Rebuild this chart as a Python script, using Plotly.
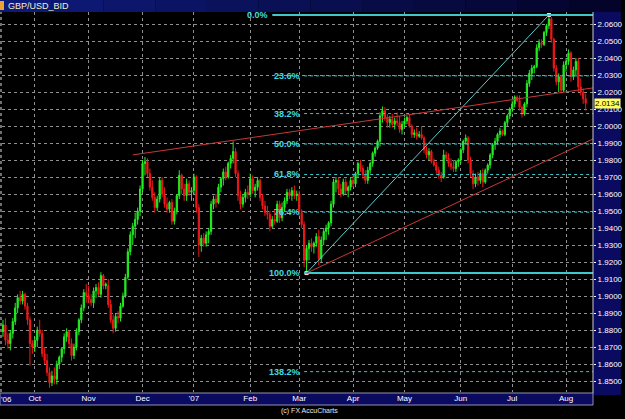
import plotly.graph_objects as go
import pandas as pd

# ---------------- data (GBP/USD daily bid, Sep 13 2006 - Aug 13 2007) ----------------
dates = pd.bdate_range("2006-09-13", "2007-08-13")

opens = [
    1.8790,1.8830,1.8740,1.8720,1.8780,1.8850,1.8930,1.8990,1.8970,1.9010,1.8940,1.8860,1.8720,  # Sep
    1.8700,1.8740,1.8800,1.8780,1.8660,1.8620,1.8550,1.8490,1.8530,1.8510,1.8600,1.8640,1.8690,1.8760,1.8790,1.8720,1.8650,1.8700,1.8790,1.8860,1.8930,1.9020,  # Oct
    1.9000,1.8980,1.8960,1.9030,1.9050,1.9010,1.9120,1.9060,1.9060,1.8950,1.8860,1.8810,1.8880,1.8870,1.8940,1.9000,1.9110,1.9260,1.9360,1.9410,1.9450,1.9500,  # Nov
    1.9630,1.9780,1.9790,1.9720,1.9640,1.9580,1.9520,1.9570,1.9680,1.9600,1.9540,1.9510,1.9550,1.9440,1.9500,1.9590,1.9710,1.9630,1.9590,1.9660,1.9610,  # Dec
    1.9620,1.9700,1.9520,1.9300,1.9340,1.9310,1.9360,1.9380,1.9540,1.9570,1.9550,1.9640,1.9690,1.9730,1.9700,1.9780,1.9810,1.9850,1.9720,1.9590,1.9540,1.9580,1.9610,  # Jan
    1.9600,1.9690,1.9620,1.9640,1.9680,1.9580,1.9530,1.9490,1.9480,1.9410,1.9450,1.9440,1.9540,1.9460,1.9520,1.9560,1.9610,1.9590,1.9620,1.9590,  # Feb
    1.9600,1.9490,1.9420,1.9210,1.9280,1.9310,1.9290,1.9310,1.9350,1.9220,1.9330,1.9380,1.9400,1.9430,1.9540,1.9670,1.9680,1.9630,1.9600,1.9670,1.9620,1.9640,  # Mar
    1.9680,1.9660,1.9720,1.9780,1.9750,1.9710,1.9680,1.9740,1.9780,1.9840,1.9870,1.9910,2.0060,2.0090,2.0050,2.0020,2.0040,2.0010,2.0030,2.0020,1.9980,  # Apr
    2.0010,2.0030,2.0050,2.0000,1.9950,1.9960,1.9940,1.9950,1.9930,1.9860,1.9830,1.9850,1.9790,1.9770,1.9740,1.9710,1.9700,1.9830,1.9810,1.9780,1.9760,1.9750,1.9790,  # May
    1.9800,1.9860,1.9910,1.9930,1.9800,1.9720,1.9660,1.9700,1.9680,1.9720,1.9670,1.9740,1.9770,1.9830,1.9890,1.9910,1.9950,1.9970,1.9950,2.0020,2.0060,  # Jun
    2.0100,2.0130,2.0170,2.0150,2.0110,2.0070,2.0130,2.0250,2.0310,2.0340,2.0350,2.0460,2.0490,2.0480,2.0550,2.0590,2.0630,2.0510,2.0340,2.0260,2.0290,2.0210,  # Jul
    2.0360,2.0380,2.0430,2.0290,2.0330,2.0380,2.0230,2.0200,2.0160,  # Aug
]
highs = [
    1.8860,1.8870,1.8780,1.8800,1.8870,1.8960,1.9010,1.9030,1.9030,1.9020,1.8960,1.8880,1.8740,
    1.8760,1.8820,1.8860,1.8800,1.8700,1.8660,1.8580,1.8560,1.8580,1.8620,1.8650,1.8700,1.8780,1.8810,1.8800,1.8750,1.8720,1.8810,1.8870,1.8950,1.9040,1.9070,
    1.9060,1.9010,1.9050,1.9070,1.9080,1.9140,1.9130,1.9080,1.9100,1.8980,1.8890,1.8900,1.8910,1.8960,1.9020,1.9130,1.9280,1.9380,1.9430,1.9490,1.9520,1.9650,
    1.9800,1.9818,1.9810,1.9750,1.9680,1.9610,1.9590,1.9700,1.9700,1.9640,1.9580,1.9560,1.9570,1.9520,1.9600,1.9740,1.9720,1.9660,1.9690,1.9680,1.9640,
    1.9720,1.9710,1.9540,1.9360,1.9370,1.9380,1.9400,1.9560,1.9590,1.9600,1.9660,1.9700,1.9750,1.9760,1.9790,1.9830,1.9910,1.9870,1.9740,1.9620,1.9600,1.9630,1.9650,
    1.9720,1.9710,1.9660,1.9700,1.9690,1.9600,1.9560,1.9530,1.9500,1.9470,1.9510,1.9560,1.9560,1.9550,1.9580,1.9630,1.9630,1.9640,1.9650,1.9620,
    1.9620,1.9510,1.9440,1.9300,1.9330,1.9340,1.9320,1.9370,1.9390,1.9350,1.9400,1.9420,1.9440,1.9560,1.9690,1.9700,1.9700,1.9660,1.9690,1.9690,1.9650,1.9700,
    1.9720,1.9730,1.9790,1.9800,1.9770,1.9740,1.9760,1.9790,1.9850,1.9880,1.9920,2.0080,2.0115,2.0110,2.0070,2.0060,2.0070,2.0050,2.0080,2.0060,2.0030,
    2.0050,2.0060,2.0070,2.0010,1.9980,1.9990,1.9970,2.0000,1.9940,1.9880,1.9870,1.9860,1.9810,1.9790,1.9760,1.9730,1.9860,1.9850,1.9840,1.9810,1.9800,1.9800,1.9810,
    1.9870,1.9920,1.9950,1.9940,1.9820,1.9740,1.9720,1.9730,1.9740,1.9750,1.9750,1.9780,1.9840,1.9900,1.9930,1.9960,1.9990,1.9980,2.0030,2.0070,2.0110,
    2.0150,2.0180,2.0180,2.0180,2.0120,2.0140,2.0270,2.0330,2.0360,2.0360,2.0480,2.0510,2.0510,2.0560,2.0600,2.0653,2.0640,2.0520,2.0360,2.0310,2.0300,2.0380,
    2.0400,2.0450,2.0440,2.0350,2.0400,2.0400,2.0280,2.0220,2.0190,
]
lows = [
    1.8760,1.8710,1.8690,1.8680,1.8750,1.8830,1.8900,1.8950,1.8950,1.8920,1.8830,1.8590,1.8660,
    1.8670,1.8700,1.8760,1.8640,1.8600,1.8530,1.8460,1.8470,1.8480,1.8480,1.8570,1.8610,1.8660,1.8730,1.8700,1.8620,1.8630,1.8680,1.8770,1.8840,1.8910,1.8960,
    1.8960,1.8940,1.8930,1.8990,1.9000,1.8990,1.9040,1.9040,1.8930,1.8840,1.8780,1.8790,1.8840,1.8850,1.8930,1.8990,1.9100,1.9240,1.9300,1.9340,1.9420,1.9470,
    1.9610,1.9710,1.9700,1.9620,1.9560,1.9490,1.9500,1.9550,1.9580,1.9520,1.9490,1.9490,1.9420,1.9420,1.9480,1.9570,1.9600,1.9560,1.9560,1.9590,1.9560,
    1.9600,1.9490,1.9230,1.9260,1.9290,1.9290,1.9310,1.9360,1.9510,1.9520,1.9540,1.9610,1.9650,1.9680,1.9690,1.9750,1.9780,1.9700,1.9560,1.9510,1.9520,1.9550,1.9570,
    1.9580,1.9600,1.9580,1.9620,1.9560,1.9510,1.9470,1.9450,1.9380,1.9400,1.9420,1.9430,1.9430,1.9440,1.9500,1.9540,1.9570,1.9560,1.9570,1.9560,
    1.9470,1.9400,1.9170,1.9135,1.9210,1.9260,1.9250,1.9290,1.9180,1.9200,1.9300,1.9330,1.9360,1.9410,1.9520,1.9610,1.9600,1.9580,1.9590,1.9600,1.9580,1.9620,
    1.9640,1.9640,1.9700,1.9730,1.9690,1.9660,1.9660,1.9720,1.9760,1.9820,1.9860,1.9880,2.0020,2.0030,1.9990,1.9990,1.9990,1.9980,2.0000,1.9960,1.9950,
    1.9990,2.0010,1.9990,1.9930,1.9930,1.9920,1.9930,1.9920,1.9840,1.9810,1.9800,1.9780,1.9760,1.9720,1.9690,1.9670,1.9690,1.9800,1.9760,1.9740,1.9730,1.9730,1.9760,
    1.9780,1.9840,1.9890,1.9780,1.9700,1.9630,1.9640,1.9650,1.9660,1.9640,1.9660,1.9720,1.9750,1.9810,1.9860,1.9890,1.9930,1.9940,1.9940,2.0000,2.0040,
    2.0080,2.0110,2.0140,2.0090,2.0050,2.0060,2.0110,2.0230,2.0270,2.0310,2.0340,2.0440,2.0460,2.0470,2.0530,2.0570,2.0490,2.0320,2.0240,2.0200,2.0190,2.0200,
    2.0320,2.0360,2.0260,2.0270,2.0300,2.0200,2.0180,2.0130,2.0090,
]
closes = [
    1.8830,1.8740,1.8720,1.8780,1.8850,1.8930,1.8990,1.8970,1.9010,1.8940,1.8860,1.8720,1.8700,
    1.8740,1.8800,1.8780,1.8660,1.8620,1.8550,1.8490,1.8530,1.8510,1.8600,1.8640,1.8690,1.8760,1.8790,1.8720,1.8650,1.8700,1.8790,1.8860,1.8930,1.9020,1.9000,
    1.8980,1.8960,1.9030,1.9050,1.9010,1.9120,1.9060,1.9070,1.8950,1.8860,1.8810,1.8880,1.8870,1.8940,1.9000,1.9110,1.9260,1.9360,1.9410,1.9450,1.9500,1.9630,
    1.9780,1.9790,1.9720,1.9640,1.9580,1.9520,1.9570,1.9680,1.9600,1.9540,1.9510,1.9550,1.9440,1.9500,1.9590,1.9710,1.9630,1.9590,1.9660,1.9610,1.9620,
    1.9700,1.9520,1.9300,1.9340,1.9310,1.9360,1.9380,1.9540,1.9570,1.9550,1.9640,1.9690,1.9730,1.9700,1.9780,1.9810,1.9850,1.9720,1.9590,1.9540,1.9580,1.9610,1.9600,
    1.9690,1.9620,1.9640,1.9680,1.9580,1.9530,1.9490,1.9480,1.9410,1.9450,1.9440,1.9540,1.9460,1.9520,1.9560,1.9610,1.9590,1.9620,1.9590,1.9600,
    1.9490,1.9420,1.9210,1.9280,1.9310,1.9290,1.9310,1.9350,1.9220,1.9330,1.9380,1.9400,1.9430,1.9540,1.9670,1.9680,1.9630,1.9600,1.9670,1.9620,1.9640,1.9680,
    1.9660,1.9720,1.9780,1.9750,1.9710,1.9680,1.9740,1.9780,1.9840,1.9870,1.9910,2.0060,2.0090,2.0050,2.0020,2.0040,2.0010,2.0030,2.0020,1.9980,2.0010,
    2.0030,2.0050,2.0000,1.9950,1.9960,1.9940,1.9950,1.9930,1.9860,1.9830,1.9850,1.9790,1.9770,1.9740,1.9710,1.9700,1.9830,1.9810,1.9780,1.9760,1.9750,1.9790,1.9800,
    1.9860,1.9910,1.9930,1.9800,1.9720,1.9660,1.9700,1.9680,1.9720,1.9670,1.9740,1.9770,1.9830,1.9890,1.9910,1.9950,1.9970,1.9950,2.0020,2.0060,2.0100,
    2.0130,2.0170,2.0150,2.0110,2.0070,2.0130,2.0250,2.0310,2.0340,2.0350,2.0460,2.0490,2.0480,2.0550,2.0590,2.0630,2.0510,2.0340,2.0260,2.0290,2.0210,2.0360,
    2.0380,2.0430,2.0290,2.0330,2.0380,2.0230,2.0200,2.0160,2.0134,
]

n = min(len(dates), len(opens), len(highs), len(lows), len(closes))
dates = dates[:n]

# month ticks
month_ticks = ["2006-10-02", "2006-11-01", "2006-12-01", "2007-01-01", "2007-02-01", "2007-03-01",
               "2007-04-02", "2007-05-01", "2007-06-01", "2007-07-02", "2007-08-01"]
month_labels = ["Oct", "Nov", "Dec", "'07", "Feb", "Mar", "Apr", "May", "Jun", "Jul", "Aug"]
price_ticks = [round(1.85 + 0.01 * k, 2) for k in range(22)]

# Fibonacci retracement anchors
swing_low_date, swing_low = "2007-03-06", 1.9135
swing_high_date, swing_high = "2007-07-23", 2.0653
fib_ratios = [0.0, 0.236, 0.382, 0.5, 0.618, 0.764, 1.0, 1.382]
fib_labels = ["0.0%", "23.6%", "38.2%", "50.0%", "61.8%", "76.4%", "100.0%", "138.2%"]

# trend lines (date, price)
upper_trend = [("2006-11-27", 1.9830), ("2007-08-16", 2.0224)]
lower_trend = [("2007-03-06", 1.9135), ("2007-08-16", 1.9924)]

last_price = closes[n - 1]

# ---------------- figure ----------------
W, H = 625, 419
ML, MR, MT, MB = 2, 28, 12, 27
PW, PH = W - ML - MR, H - MT - MB


def px(xp):
    return (xp - ML) / PW


def py(yp):
    return (H - MB - yp) / PH


fig = go.Figure()
fig.add_trace(go.Candlestick(
    x=dates, open=opens[:n], high=highs[:n], low=lows[:n], close=closes[:n],
    increasing=dict(line=dict(color="#22ee22", width=1), fillcolor="#22ee22"),
    decreasing=dict(line=dict(color="#f01818", width=1), fillcolor="#f01818"),
    whiskerwidth=0, showlegend=False, hoverinfo="skip"))

shapes = []
annotations = []
x_end = "2007-08-16"
fib_start = "2007-03-05"
cyan = "#3cc8cc"
for r, lab in zip(fib_ratios, fib_labels):
    lvl = swing_high - r * (swing_high - swing_low)
    solid = r in (0.0, 1.0)
    x0 = "2007-02-14" if r == 0.0 else fib_start
    shapes.append(dict(type="line", xref="x", yref="y", x0=x0, x1=x_end, y0=lvl, y1=lvl,
                       line=dict(color=cyan, width=2 if solid else 1, dash="solid" if solid else "dot")))
    annotations.append(dict(x=x0, y=lvl, xref="x", yref="y", text="<b>%s</b>" % lab, showarrow=False,
                            xanchor="right", yanchor="middle", xshift=-2,
                            font=dict(color="#40dce4", size=9, family="Liberation Sans")))

# diagonal fib anchor line
shapes.append(dict(type="line", xref="x", yref="y", x0=swing_low_date, y0=swing_low,
                   x1=swing_high_date, y1=swing_high, line=dict(color="#60c8c8", width=1)))
# red trend lines
for (a, b) in (upper_trend, lower_trend):
    shapes.append(dict(type="line", xref="x", yref="y", x0=a[0], y0=a[1], x1=b[0], y1=b[1],
                       line=dict(color="#c83838", width=1)))

navy = "#0a0a60"
# right axis panel
shapes.append(dict(type="rect", xref="paper", yref="paper", x0=1, x1=px(W), y0=py(395), y1=1,
                   fillcolor=navy, line=dict(width=0), layer="below"))
# bottom axis strip
shapes.append(dict(type="rect", xref="paper", yref="paper", x0=px(0), x1=1, y0=py(405), y1=py(393),
                   fillcolor=navy, line=dict(color="#9090b0", width=1), layer="below"))
# title bar gradient
steps = 12
for k in range(steps):
    t = k / (steps - 1)
    c = "rgb(%d,%d,%d)" % (int(14 - 10 * t), int(26 - 22 * t), int(122 - 80 * t))
    shapes.append(dict(type="rect", xref="paper", yref="paper",
                       x0=px(W * k / steps), x1=px(W * (k + 1) / steps), y0=1, y1=py(0),
                       fillcolor=c, line=dict(width=0), layer="below"))
shapes.append(dict(type="rect", xref="paper", yref="paper", x0=px(0), x1=px(4), y0=py(10), y1=py(1),
                   fillcolor="#f0a030", line=dict(width=0)))
# separator lines
shapes.append(dict(type="line", xref="paper", yref="paper", x0=1, x1=1, y0=py(393), y1=1,
                   line=dict(color="#c8c8d8", width=1)))
shapes.append(dict(type="line", xref="paper", yref="paper", x0=px(1), x1=px(1), y0=0, y1=1,
                   line=dict(color="#e0e0e0", width=1, dash="dot")))

# anchor markers
fig.add_trace(go.Scatter(x=[swing_low_date, swing_high_date], y=[swing_low, swing_high],
                         mode="markers", marker=dict(symbol="square", size=4, color="#ffd8e8"),
                         showlegend=False, hoverinfo="skip"))

annotations += [
    dict(xref="paper", yref="paper", x=px(6), y=py(6), text="GBP/USD_BID", showarrow=False,
         xanchor="left", yanchor="middle", font=dict(color="#f4f0c8", size=9, family="Liberation Sans")),
    dict(xref="paper", yref="y", x=1, y=last_price, text="2.0134", showarrow=False,
         xanchor="left", yanchor="middle", xshift=1, bgcolor="#ffff5a", borderpad=0,
         font=dict(color="black", size=8, family="Liberation Sans")),
    dict(xref="paper", yref="paper", x=px(7), y=py(399), text="'06", showarrow=False,
         xanchor="center", yanchor="middle", font=dict(color="white", size=8, family="Liberation Sans")),
    dict(xref="paper", yref="paper", x=px(312), y=py(411), text="(c) FX AccuCharts", showarrow=False,
         xanchor="center", yanchor="middle", font=dict(color="#e8e8e8", size=7, family="Liberation Sans")),
]

fig.update_layout(
    width=W, height=H, autosize=False,
    margin=dict(l=ML, r=MR, t=MT, b=MB, pad=0),
    paper_bgcolor="black", plot_bgcolor="black",
    shapes=shapes, annotations=annotations, hovermode=False, showlegend=False,
    xaxis=dict(type="date", range=["2006-09-12 14:24", "2007-08-16 00:00"],
               rangebreaks=[dict(bounds=["sat", "mon"])],
               rangeslider=dict(visible=False),
               tickmode="array", tickvals=month_ticks, ticktext=month_labels,
               tickfont=dict(color="white", size=8, family="Liberation Sans"),
               ticks="", showgrid=True, gridcolor="#909090", griddash="dot", gridwidth=1,
               zeroline=False, showline=False, fixedrange=True),
    yaxis=dict(side="right", range=[1.84353, 2.06706], tickmode="array", tickvals=price_ticks,
               ticktext=["%.4f" % v for v in price_ticks],
               tickfont=dict(color="white", size=8, family="Liberation Sans"),
               ticks="outside", ticklen=2, tickcolor="white",
               showgrid=True, gridcolor="#909090", griddash="dot", gridwidth=1,
               zeroline=False, showline=False, fixedrange=True),
)

fig.write_html("out.html")
